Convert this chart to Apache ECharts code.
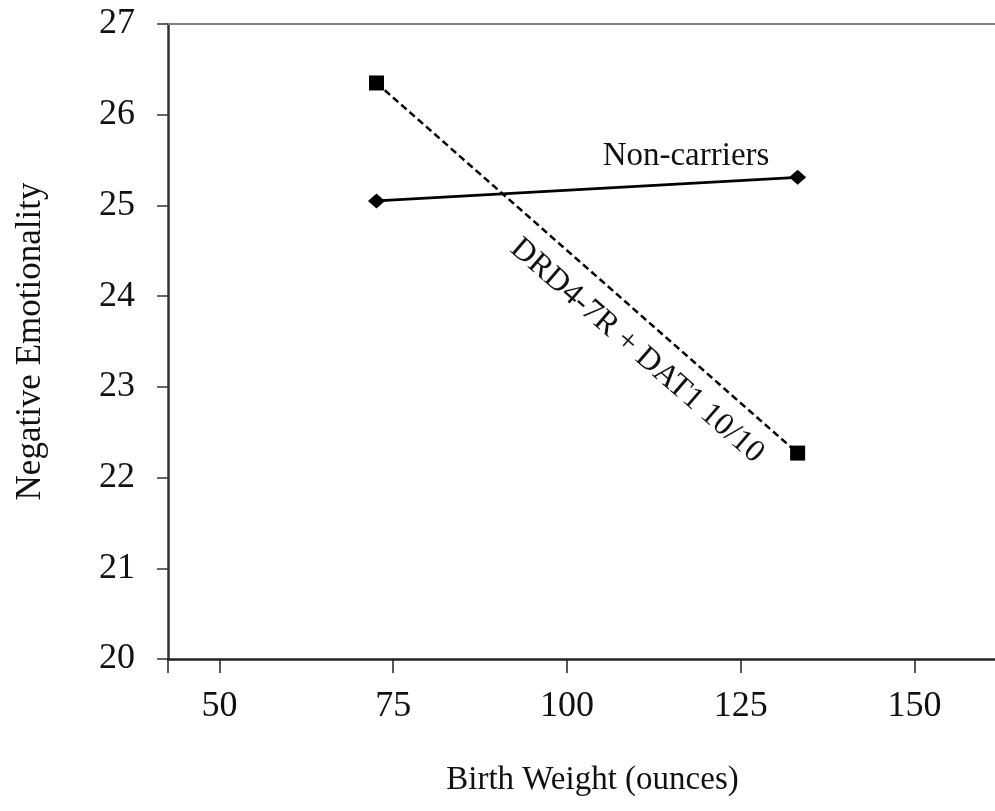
<!DOCTYPE html>
<html>
<head>
<meta charset="utf-8">
<script src="https://cdn.jsdelivr.net/npm/echarts@6/dist/echarts.min.js"></script>
<style>
  html, body { margin: 0; padding: 0; background: #fff; }
  #chart { width: 995px; height: 811px; }
</style>
</head>
<body>
<div id="chart"></div>
<script>
const birthWeight = [72.6, 133.2]
const nonCarriers = [25.05, 25.31]
const carriers = [26.35, 22.27]
const xTicks = [50, 75, 100, 125, 150]
const xMin = 42.6
const xMax = 161.6

const serif = '"Liberation Serif", "Times New Roman", serif'
const textColor = '#111'

const toPairs = (xs, ys) => xs.map((x, i) => [x, ys[i]])

let chartDom = echarts.init(document.getElementById('chart'))
chartDom.setOption({
  animation: false,
  grid: { left: 168, right: 0, top: 24, bottom: 152 },
  xAxis: [{
    type: 'value',
    min: xMin,
    max: xMax,
    name: 'Birth Weight (ounces)',
    nameLocation: 'middle',
    nameGap: 105,
    nameTextStyle: { fontFamily: serif, fontSize: 33, color: textColor, padding: [0, 0, 0, 22] },
    axisLine: { lineStyle: { color: '#222', width: 2.5 } },
    axisTick: { show: true, length: 14, lineStyle: { color: '#222', width: 1.5 }, customValues: [xMin].concat(xTicks) },
    axisLabel: { fontFamily: serif, fontSize: 36, color: textColor, margin: 30, customValues: xTicks },
    splitLine: { show: false }
  }, {
    type: 'value',
    position: 'top',
    min: xMin,
    max: xMax,
    axisLine: { show: true, lineStyle: { color: '#808080', width: 2 } },
    axisTick: { show: false },
    axisLabel: { show: false },
    splitLine: { show: false }
  }],
  yAxis: {
    type: 'value',
    min: 20,
    max: 27,
    interval: 1,
    name: 'Negative Emotionality',
    nameLocation: 'middle',
    nameRotate: 90,
    nameGap: 120,
    nameTextStyle: { fontFamily: serif, fontSize: 35, color: textColor },
    axisLine: { show: true, lineStyle: { color: '#333', width: 2.5 } },
    axisTick: { show: true, length: 11, lineStyle: { color: '#333', width: 1.5 } },
    axisLabel: { fontFamily: serif, fontSize: 36, color: textColor, margin: 33 },
    splitLine: { show: false }
  },
  series: [{
    name: 'Non-carriers',
    type: 'line',
    data: toPairs(birthWeight, nonCarriers),
    symbol: 'diamond',
    symbolSize: [17, 15],
    itemStyle: { color: '#000' },
    lineStyle: { color: '#000', width: 2.8, type: 'solid' }
  }, {
    name: 'DRD4-7R + DAT1 10/10',
    type: 'line',
    data: toPairs(birthWeight, carriers),
    symbol: 'rect',
    symbolSize: 15,
    itemStyle: { color: '#000' },
    lineStyle: { color: '#000', width: 2.5, type: [7, 4] }
  }],
  graphic: [{
    type: 'text',
    x: 686,
    y: 156,
    style: { text: 'Non-carriers', fontFamily: serif, fontSize: 33, fill: textColor, align: 'center', verticalAlign: 'middle' }
  }, {
    type: 'text',
    x: 637,
    y: 351,
    rotation: -41 * Math.PI / 180,
    style: { text: 'DRD4-7R + DAT1 10/10', fontFamily: serif, fontSize: 32, fill: textColor, align: 'center', verticalAlign: 'middle' }
  }]
})
</script>
</body>
</html>
